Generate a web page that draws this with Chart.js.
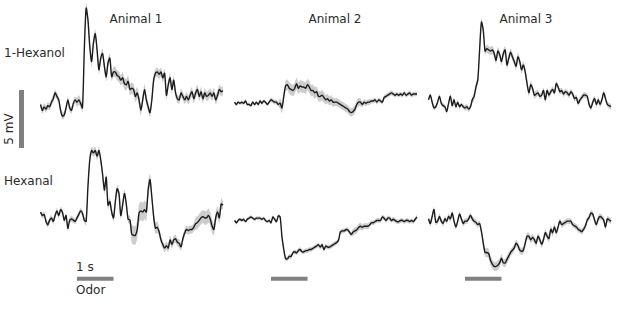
<!DOCTYPE html>
<html>
<head>
<meta charset="utf-8">
<script src="https://cdn.jsdelivr.net/npm/chart.js@4.4.0/dist/chart.umd.min.js"></script>
<style>
body { margin: 0; background: #fff; width: 617px; height: 310px; position: relative; overflow: hidden;
       font-family: "DejaVu Sans", sans-serif; color: #2a2a2a; }
canvas { position: absolute; }
.lbl { position: absolute; font-size: 12px; white-space: nowrap; line-height: 1; }
</style>
</head>
<body>

<div class="lbl" style="left:136px;top:19px;transform:translate(-50%,-50%)">Animal 1</div>
<div class="lbl" style="left:335px;top:19px;transform:translate(-50%,-50%)">Animal 2</div>
<div class="lbl" style="left:526px;top:19px;transform:translate(-50%,-50%)">Animal 3</div>
<div class="lbl" style="left:4px;top:53px;transform:translateY(-50%)">1-Hexanol</div>
<div class="lbl" style="left:4px;top:181px;transform:translateY(-50%)">Hexanal</div>
<div class="lbl" style="left:9px;top:129px;transform:translate(-50%,-50%) rotate(-90deg)">5 mV</div>
<div class="lbl" style="left:76px;top:267px;transform:translateY(-50%)">1 s</div>
<div class="lbl" style="left:76px;top:290px;transform:translateY(-50%)">Odor</div>

<canvas id="a1top" width="215" height="155"></canvas>
<canvas id="a2top" width="194" height="155"></canvas>
<canvas id="a3top" width="193" height="155"></canvas>
<canvas id="a1bot" width="215" height="160"></canvas>
<canvas id="a2bot" width="194" height="160"></canvas>
<canvas id="a3bot" width="193" height="160"></canvas>

<script>
// sampling: first sample at -1 s, every 0.05 s (odor on at 0 s, off at 1 s)
const t0 = -1;
const dt = 0.05;
const odorOn = 0;
const odorOff = 1;
const scaleMv = 5;

// mean membrane potential, mV relative to baseline
const hexanolA1 = [0.3,-0.2,0.1,-0.1,0.2,0.1,0.5,0.8,1.3,1.0,0.7,-0.2,-0.7,-0.6,0.0,0.7,0.0,-0.2,0.4,0.7,
  0.5,0.7,0.4,0.0,5.0,8.6,7.6,5.3,4.0,5.6,6.4,5.0,3.3,4.3,4.7,3.6,2.7,3.9,4.3,2.7,
  3.1,3.1,2.8,2.7,2.4,2.6,2.1,2.0,2.3,1.6,1.7,1.6,1.0,1.3,0.7,-0.2,0.7,1.6,0.7,0.1,
  -0.4,0.7,2.4,3.0,3.1,2.9,3.1,2.6,3.0,1.1,2.0,2.6,1.6,2.4,1.3,0.8,0.7,1.3,1.0,0.7,
  1.0,0.7,1.1,1.4,0.8,1.3,1.6,1.0,1.4,0.8,1.3,1.0,1.1,1.3,1.0,1.3,0.7,1.1,1.6,1.4,1.5];
const hexanolA2 = [0.1,-0.1,0.1,0.0,0.1,0.0,0.2,-0.1,-0.1,-0.2,0.1,-0.1,0.1,-0.1,0.2,0.0,0.2,0.1,-0.1,0.1,
  0.3,0.2,0.1,0.1,-0.1,0.0,-0.4,0.6,1.5,1.6,1.3,1.2,1.1,1.3,1.7,1.3,1.5,1.4,1.4,1.3,
  1.6,1.4,1.1,1.1,0.9,1.0,0.6,0.6,0.7,0.5,0.3,0.4,0.2,0.3,0.1,0.1,0.1,0.0,-0.1,-0.2,
  -0.3,-0.4,-0.5,-0.7,-0.8,-0.7,-0.5,-0.1,0.1,0.1,-0.1,0.1,0.0,0.1,0.1,0.2,0.2,0.3,0.1,0.3,
  0.2,0.1,0.5,0.6,0.7,0.8,0.9,0.8,0.7,0.8,0.7,0.8,0.7,0.9,0.7,0.8,0.9,0.7,0.8,0.8,0.8];
const hexanolA3 = [0.3,0.7,0.1,-0.4,-0.3,0.1,0.6,0.0,-0.2,-0.3,-0.7,0.0,0.6,-0.2,0.3,-0.3,0.1,-0.3,-0.1,-0.3,
  -0.4,-0.3,-0.5,-0.3,0.3,0.6,1.4,2.0,4.6,7.0,6.3,4.5,4.7,4.6,4.5,4.6,4.3,3.7,4.5,4.2,
  3.6,4.3,4.6,3.3,3.9,4.4,4.0,3.6,3.2,4.0,3.6,2.9,3.3,2.7,1.7,0.9,1.6,1.3,0.7,0.8,
  0.9,0.6,0.7,1.1,0.3,1.1,0.7,1.0,1.2,0.9,1.7,1.4,1.0,1.1,0.8,1.0,0.9,0.7,1.0,0.8,
  0.4,0.5,0.0,0.3,0.5,0.7,0.7,0.6,-0.1,-0.4,0.1,0.4,-0.1,0.3,-0.1,0.3,0.9,0.4,-0.1,-0.2,-0.3];
const hexanalA1 = [0.4,0.1,0.2,-0.4,-0.7,-0.3,-0.1,-0.4,0.1,0.5,0.1,0.6,0.4,-0.3,0.1,-1.0,-0.3,-0.2,-0.3,-0.4,
  -0.1,0.2,0.5,0.3,-0.3,-0.4,2.6,4.9,5.7,5.5,5.7,5.2,5.7,4.9,3.7,2.3,3.4,1.0,1.3,0.4,
  -0.1,1.3,2.4,2.0,0.1,1.0,2.0,1.1,-0.2,-0.3,-1.5,-1.6,-1.6,-1.1,0.3,0.5,0.4,0.6,0.4,2.3,
  3.2,1.7,0.0,-1.0,-0.9,-1.3,-2.0,-2.4,-2.7,-2.5,-2.7,-2.0,-2.4,-2.0,-1.9,-2.2,-2.3,-2.6,-1.9,-1.4,
  -1.1,-1.2,-1.1,-1.1,-0.9,-0.6,-0.5,-0.3,-0.1,0.0,-0.1,-0.1,0.1,-0.2,-0.8,-1.1,-0.1,0.4,-0.1,1.1,1.0];
const hexanalA2 = [-0.1,-0.3,-0.1,0.0,-0.1,0.0,-0.2,0.0,0.1,0.2,0.1,0.0,0.1,0.1,0.1,0.0,0.1,-0.1,-0.2,-0.1,
  -0.3,0.2,0.0,-0.2,0.3,0.2,-1.5,-2.6,-3.4,-3.4,-3.2,-3.2,-2.9,-2.8,-2.9,-2.7,-2.6,-2.8,-2.8,-2.7,
  -2.7,-2.6,-2.6,-2.5,-2.4,-2.3,-2.2,-2.4,-2.2,-2.6,-2.3,-2.4,-2.4,-2.3,-2.2,-2.1,-2.0,-1.8,-1.1,-1.0,
  -1.0,-0.9,-0.9,-1.1,-1.3,-1.1,-1.0,-0.9,-0.7,-0.6,-0.7,-0.6,-0.6,-0.6,-0.5,-0.3,-0.3,-0.2,-0.1,-0.1,
  -0.1,0.2,0.1,-0.1,0.1,0.1,-0.1,0.0,-0.1,-0.2,-0.2,-0.1,-0.1,-0.2,-0.1,-0.1,-0.2,-0.1,-0.2,0.0,0.2];
const hexanalA3 = [0.1,-0.3,0.3,0.9,-0.2,-0.1,0.3,-0.1,-0.3,0.1,-0.1,0.3,0.1,0.6,-0.1,-0.6,-0.1,0.5,0.1,-0.3,
  -0.1,-0.1,0.1,0.4,0.1,-0.1,-0.2,-0.4,-0.3,-1.0,-2.0,-2.8,-2.8,-2.9,-3.5,-3.8,-4.0,-4.0,-3.9,-3.7,
  -3.3,-3.7,-3.7,-3.4,-3.1,-2.8,-2.6,-2.4,-2.0,-2.2,-2.6,-2.7,-2.6,-2.0,-1.4,-1.4,-1.7,-1.5,-1.7,-2.0,
  -1.4,-1.7,-2.1,-1.7,-1.1,-1.4,-1.6,-0.8,-1.1,-0.6,-1.1,-0.6,-0.1,-0.4,-0.3,-0.2,-0.1,-0.1,-0.1,-0.4,
  -0.5,-0.6,-0.8,-0.9,-1.0,-0.8,-0.5,0.0,0.2,0.6,0.5,0.0,-0.4,0.1,0.3,0.2,0.0,-0.6,0.1,0.0,-0.1];

// s.e.m. in mV, one estimate per 0.25 s block
const semHexanolA1 = [0.3,0.3,0.3,0.3,0.4,0.45,0.4,0.4,0.45,0.5,0.5,0.45,0.4,0.4,0.4,0.35,0.4,0.4,0.4,0.4,0.4];
const semHexanolA2 = [0.15,0.15,0.15,0.15,0.2,0.45,0.5,0.5,0.5,0.45,0.4,0.35,0.35,0.35,0.25,0.2,0.2,0.2,0.2,0.2,0.2];
const semHexanolA3 = [0.2,0.2,0.2,0.2,0.25,0.35,0.35,0.35,0.35,0.35,0.35,0.3,0.25,0.25,0.25,0.25,0.25,0.25,0.25,0.25,0.25];
const semHexanalA1 = [0.25,0.25,0.25,0.25,0.25,0.35,0.35,0.35,0.35,0.35,0.8,0.8,0.5,0.35,0.35,0.35,0.35,0.55,0.6,0.5,0.35];
const semHexanalA2 = [0.15,0.15,0.15,0.15,0.15,0.2,0.2,0.2,0.2,0.2,0.2,0.2,0.2,0.3,0.25,0.2,0.2,0.2,0.2,0.2,0.2];
const semHexanalA3 = [0.25,0.25,0.25,0.25,0.25,0.25,0.4,0.4,0.35,0.3,0.3,0.3,0.3,0.3,0.25,0.25,0.25,0.25,0.25,0.25,0.25];

// layout (pixels)
const pxPerS = 36.5;
const pxPerMv = 11.6;
const barY = 278.8;

const panels = [
  { id: 'a1top', mean: hexanolA1, sem: semHexanolA1, left: 10,  top: 0,   x0: 77,  y0: 108,   mvBar: { x: 21.5, top: 90 } },
  { id: 'a2top', mean: hexanolA2, sem: semHexanolA2, left: 228, top: 0,   x0: 271, y0: 103.3 },
  { id: 'a3top', mean: hexanolA3, sem: semHexanolA3, left: 424, top: 0,   x0: 465, y0: 103.3 },
  { id: 'a1bot', mean: hexanalA1, sem: semHexanalA1, left: 10,  top: 140, x0: 77,  y0: 216.7, odor: true },
  { id: 'a2bot', mean: hexanalA2, sem: semHexanalA2, left: 228, top: 140, x0: 271, y0: 219.3, odor: true },
  { id: 'a3bot', mean: hexanalA3, sem: semHexanalA3, left: 424, top: 140, x0: 465, y0: 220,   odor: true },
];

panels.forEach(p => {
  const cv = document.getElementById(p.id);
  cv.style.left = p.left + 'px';
  cv.style.top = p.top + 'px';

  const mean = p.mean.map((v, i) => ({ x: t0 + dt * i, y: v }));
  const lo = p.mean.map((v, i) => ({ x: t0 + dt * i, y: v - p.sem[Math.floor(i / 5)] }));
  const hi = p.mean.map((v, i) => ({ x: t0 + dt * i, y: v + p.sem[Math.floor(i / 5)] }));

  const datasets = [
    { data: mean, borderColor: '#1c1c1c', borderWidth: 1.4, tension: 0.25, order: 0 },
    { data: lo, borderWidth: 0, borderColor: 'transparent', tension: 0.25, order: 2 },
    { data: hi, borderWidth: 0, borderColor: 'transparent', tension: 0.25, fill: '-1', backgroundColor: '#cdcdcd', order: 1 },
  ];

  if (p.mvBar) {
    const bx = (p.mvBar.x - p.x0) / pxPerS;
    const by = (p.y0 - p.mvBar.top) / pxPerMv;
    datasets.push({ data: [{ x: bx, y: by }, { x: bx, y: by - scaleMv }],
      borderColor: '#808080', borderWidth: 5, borderCapStyle: 'butt', order: 0 });
  }
  if (p.odor) {
    const by = (p.y0 - barY) / pxPerMv;
    datasets.push({ data: [{ x: odorOn, y: by }, { x: odorOff, y: by }],
      borderColor: '#808080', borderWidth: 4, borderCapStyle: 'butt', order: 0 });
  }

  new Chart(cv, {
    type: 'line',
    data: { datasets: datasets },
    options: {
      responsive: false,
      animation: false,
      events: [],
      layout: { padding: 0 },
      elements: { point: { radius: 0 } },
      plugins: { legend: { display: false }, tooltip: { enabled: false } },
      scales: {
        x: { type: 'linear', display: false,
             min: (p.left - p.x0) / pxPerS, max: (p.left + cv.width - p.x0) / pxPerS },
        y: { type: 'linear', display: false,
             min: (p.y0 - p.top - cv.height) / pxPerMv, max: (p.y0 - p.top) / pxPerMv },
      },
    },
  });
});
</script>
</body>
</html>
